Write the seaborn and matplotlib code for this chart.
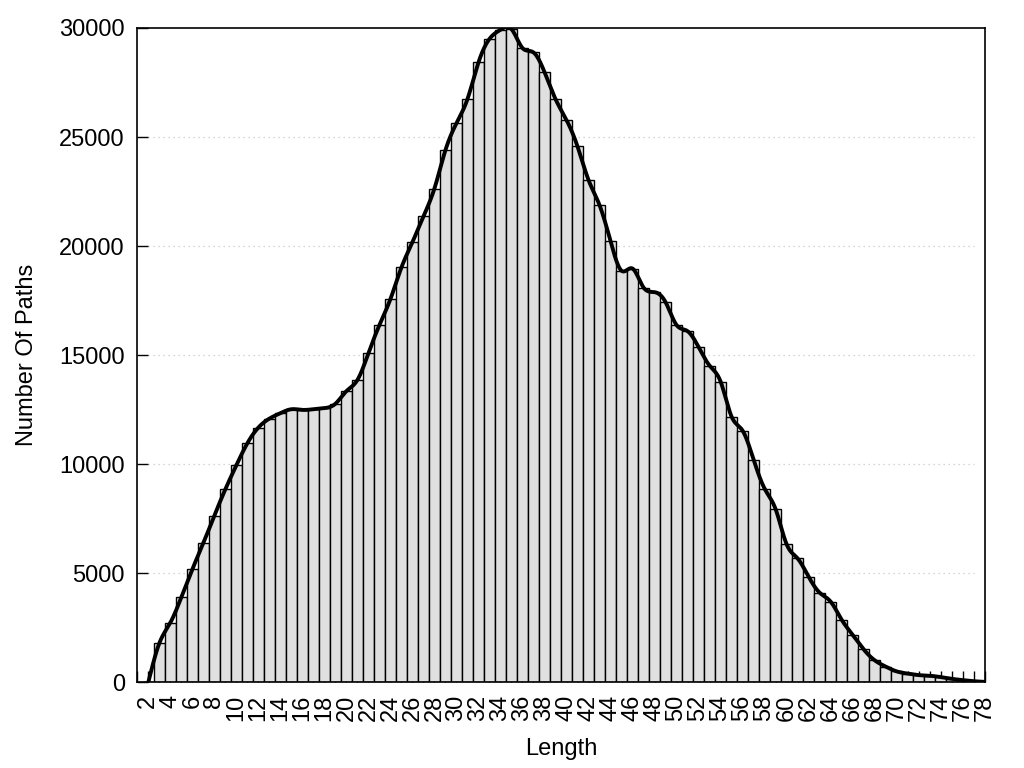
import numpy as np
import pandas as pd
import matplotlib
matplotlib.use("Agg")
import matplotlib.pyplot as plt
import seaborn as sns
from matplotlib.ticker import MultipleLocator, FixedLocator

# ---- data -------------------------------------------------------------
lengths = list(range(2, 79))
paths = [
    0, 1790, 2730, 3900, 5180, 6380, 7640, 8850, 9950, 10960,      # 2-11
    11680, 12090, 12340, 12520, 12490, 12520, 12570, 12770, 13350, 13860,  # 12-21
    15090, 16380, 17570, 19020, 20180, 21360, 22640, 24400, 25630, 26740,  # 22-31
    28420, 29500, 29920, 29950, 29080, 28880, 27980, 26740, 25780, 24570,  # 32-41
    23030, 21880, 20230, 18870, 18970, 18100, 17890, 17430, 16380, 16100,  # 42-51
    15370, 14520, 13790, 12180, 11540, 10210, 8880, 7940, 6330, 5680,      # 52-61
    4840, 4110, 3700, 2870, 2180, 1510, 1010, 720, 500, 400,               # 62-71
    330, 300, 240, 160, 100, 50, 20,                                       # 72-78
]
x_tick_labels = [str(v) for v in range(2, 79, 2)]
y_ticks = [0, 5000, 10000, 15000, 20000, 25000, 30000]

df = pd.DataFrame({"Length": lengths, "Paths": paths})


def natural_cubic_spline(x, y, xs):
    x = np.asarray(x, float)
    y = np.asarray(y, float)
    n = len(x)
    h = np.diff(x)
    A = np.zeros((n, n))
    r = np.zeros(n)
    A[0, 0] = 1.0
    A[-1, -1] = 1.0
    for i in range(1, n - 1):
        A[i, i - 1] = h[i - 1]
        A[i, i] = 2 * (h[i - 1] + h[i])
        A[i, i + 1] = h[i]
        r[i] = 3 * ((y[i + 1] - y[i]) / h[i] - (y[i] - y[i - 1]) / h[i - 1])
    c = np.linalg.solve(A, r)
    b = (y[1:] - y[:-1]) / h - h * (2 * c[:-1] + c[1:]) / 3
    d = (c[1:] - c[:-1]) / (3 * h)
    idx = np.clip(np.searchsorted(x, xs) - 1, 0, n - 2)
    dx = xs - x[idx]
    return y[idx] + b[idx] * dx + c[idx] * dx ** 2 + d[idx] * dx ** 3


xs = np.linspace(lengths[0], lengths[-1], 2000)
ys = natural_cubic_spline(df["Length"], df["Paths"], xs)
smooth = pd.DataFrame({"x": xs, "y": ys})

# ---- style ------------------------------------------------------------
sns.set_style("white")
plt.rcParams["font.family"] = ["Liberation Sans", "DejaVu Sans"]
plt.rcParams["font.size"] = 17
plt.rcParams["text.color"] = "black"
plt.rcParams["axes.labelcolor"] = "black"
plt.rcParams["xtick.color"] = "black"
plt.rcParams["ytick.color"] = "black"

fig = plt.figure(figsize=(10.24, 7.68), dpi=100)
ax = fig.add_axes([137.3 / 1024, 1 - 682.3 / 768, (984.7 - 137.3) / 1024, (682.3 - 28) / 768])

ax.set_axisbelow(True)

# grid (dotted light grey), stopping short of the borders
for yv in y_ticks[1:-1]:
    ax.axhline(yv, xmin=0.013, xmax=0.987, color="#c8c8c8", lw=0.9,
               ls=(0, (1, 3)), zorder=0.2)

sns.histplot(data=df, x="Length", weights="Paths", discrete=True,
             color="#e0e0e0", edgecolor="black", linewidth=1.0, alpha=1.0,
             ax=ax, zorder=1)

sns.lineplot(data=smooth, x="x", y="y", color="black", lw=2.8, ax=ax,
             zorder=3, sort=False)

ax.set_xlim(1, 78)
ax.set_ylim(0, 30000)

ax.xaxis.set_major_locator(FixedLocator(list(range(2, 79, 2))))
ax.set_xticklabels(x_tick_labels, rotation=90, fontsize=17, color="black")
ax.xaxis.set_minor_locator(MultipleLocator(1))
ax.set_yticks(y_ticks)
ax.set_yticklabels([str(v) for v in y_ticks], fontsize=17, color="black")

ax.tick_params(axis="x", which="both", direction="in", length=7.7, width=1,
               pad=9, color="black", labelcolor="black", top=False, bottom=True)
ax.tick_params(axis="y", which="both", direction="in", length=8, width=1,
               pad=9, color="black", labelcolor="black", right=False, left=True)

for s in ax.spines.values():
    s.set_visible(True)
    s.set_color("black")
    s.set_linewidth(1.2)

ax.set_xlabel("Length", fontsize=17, labelpad=12, color="black")
ax.set_ylabel("Number Of Paths", fontsize=17, labelpad=15, color="black")

fig.savefig("out.png", dpi=100)
